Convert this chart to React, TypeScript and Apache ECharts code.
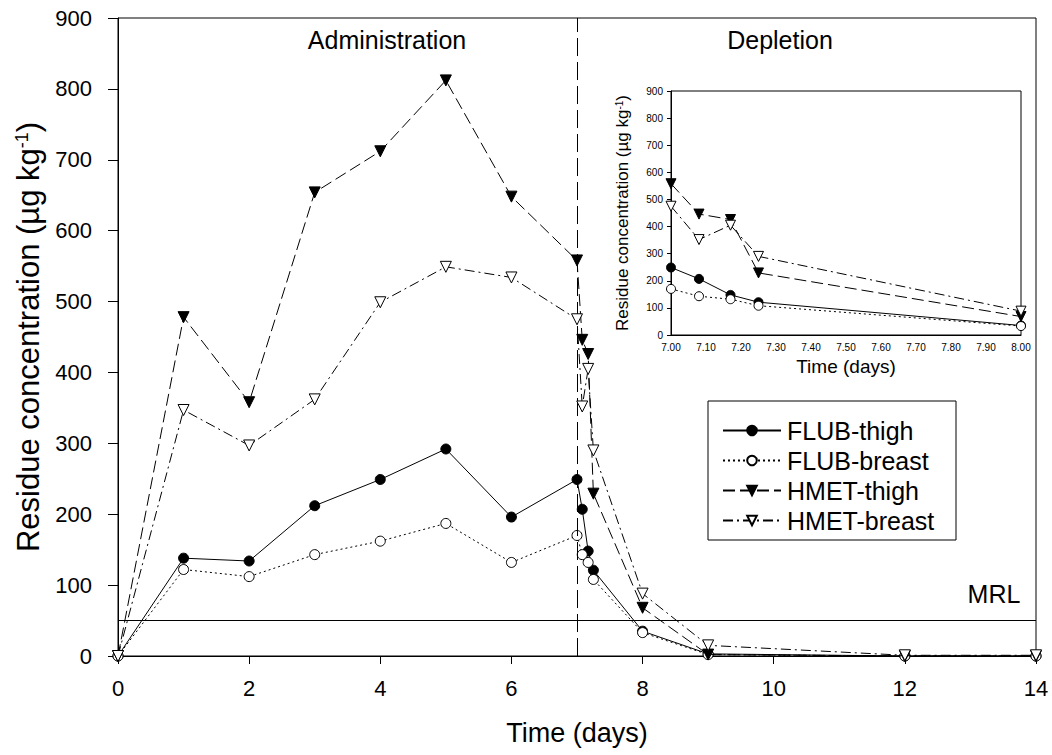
import React, { useEffect, useRef } from "react";
import * as echarts from "echarts";

// Sampling times (days)
const days = [0, 1, 2, 3, 4, 5, 6, 7, 7.08, 7.17, 7.25, 8, 9, 12, 14];
// Residue concentrations (µg kg-1)
const flubThigh = [0, 138, 134, 212, 249, 292, 196, 249, 207, 148, 121, 35, 3, 0, 0];
const flubBreast = [0, 122, 112, 143, 162, 187, 132, 170, 143, 132, 108, 33, 2, 0, 0];
const hmetThigh = [0, 478, 358, 654, 712, 812, 648, 558, 446, 426, 229, 68, 2, 0, 0];
const hmetBreast = [0, 347, 297, 362, 499, 549, 534, 475, 352, 405, 290, 88, 15, 1, 1];

const seriesNames = ["FLUB-thigh", "FLUB-breast", "HMET-thigh", "HMET-breast"];
const mainXTicks = [0, 14, 2];
const mainYTicks = [0, 900, 100];
const insetXTicks = [7, 8, 0.1];
const mrl = 50;
const endOfAdministration = 7;

const FONT = "'Liberation Sans', Arial, sans-serif";

const pairs = (ys: number[]) => days.map((d, i) => [d, ys[i]]);
const insetPairs = (ys: number[]) =>
  days.map((d, i) => [d, ys[i]]).filter((p) => p[0] >= 7 && p[0] <= 8);

const styles = [
  { symbol: "circle", rotate: 0, fill: "#000", dash: "solid" as any, size: 10, insetSize: 9 },
  { symbol: "circle", rotate: 0, fill: "#fff", dash: [2, 3], size: 10, insetSize: 9 },
  { symbol: "triangle", rotate: 180, fill: "#000", dash: [12, 5], size: 11, insetSize: 10 },
  { symbol: "triangle", rotate: 180, fill: "#fff", dash: [10, 4, 2, 4], size: 11, insetSize: 10 },
];
const allData = [flubThigh, flubBreast, hmetThigh, hmetBreast];

export default function App() {
  const ref = useRef<HTMLDivElement>(null);
  useEffect(() => {
    document.body.style.margin = "0";
    const chart = echarts.init(ref.current!, null, { renderer: "svg" });
    const series: any[] = [];
    allData.forEach((ys, k) => {
      const st = styles[k];
      const base = {
        type: "line",
        name: seriesNames[k],
        symbol: st.symbol,
        symbolRotate: st.rotate,
        showAllSymbol: true,
        itemStyle: { color: st.fill, borderColor: "#000", borderWidth: 1 },
        lineStyle: { color: "#000", width: 1, type: st.dash },
        z: 3 + k,
      };
      const s: any = { ...base, xAxisIndex: 0, yAxisIndex: 0, symbolSize: st.size, data: pairs(ys) };
      if (k === 0) {
        s.markLine = {
          silent: true,
          symbol: ["none", "none"],
          label: { show: false },
          data: [
            { xAxis: endOfAdministration, lineStyle: { color: "#000", width: 1, type: [18, 6] } },
            { yAxis: mrl, lineStyle: { color: "#000", width: 1, type: "solid" } },
          ],
        };
      }
      series.push(s);
      series.push({
        ...base,
        xAxisIndex: 1,
        yAxisIndex: 1,
        symbolSize: st.insetSize,
        data: insetPairs(ys),
      });
    });

    chart.setOption({
      animation: false,
      backgroundColor: "#fff",
      textStyle: { fontFamily: FONT, color: "#000" },
      grid: [
        { left: 118, right: 16, top: 18, bottom: 99, show: true, borderColor: "#000", borderWidth: 1, backgroundColor: "transparent" },
        { left: 671, right: 31, top: 91, height: 244, show: true, borderColor: "#000", borderWidth: 1, backgroundColor: "#fff" },
      ],
      xAxis: [
        {
          type: "value",
          gridIndex: 0,
          min: mainXTicks[0],
          max: mainXTicks[1],
          interval: mainXTicks[2],
          name: "Time (days)",
          nameLocation: "middle",
          nameGap: 63,
          nameTextStyle: { fontSize: 27, fontFamily: FONT, color: "#000" },
          axisLine: { lineStyle: { color: "#000", width: 1 } },
          axisTick: { inside: false, length: 8, lineStyle: { color: "#000" } },
          axisLabel: { fontSize: 22, margin: 21, color: "#000", fontFamily: FONT },
          splitLine: { show: false },
        },
        {
          type: "value",
          gridIndex: 1,
          min: insetXTicks[0],
          max: insetXTicks[1],
          interval: insetXTicks[2],
          name: "Time (days)",
          nameLocation: "middle",
          nameGap: 22,
          nameTextStyle: { fontSize: 19, fontFamily: FONT, color: "#000" },
          axisLine: { lineStyle: { color: "#000", width: 1 } },
          axisTick: { show: false },
          axisLabel: {
            fontSize: 10,
            margin: 7,
            color: "#000",
            fontFamily: FONT,
            formatter: (v: number) => v.toFixed(2),
          },
          splitLine: { show: false },
        },
      ],
      yAxis: [
        {
          type: "value",
          gridIndex: 0,
          min: mainYTicks[0],
          max: mainYTicks[1],
          interval: mainYTicks[2],
          name: "{a|Residue concentration (µg kg}{s|-1}{a|)}",
          nameLocation: "middle",
          nameGap: 72,
          nameTextStyle: {
            fontFamily: FONT,
            color: "#000",
            rich: {
              a: { fontSize: 31, fontFamily: FONT, color: "#000" },
              s: { fontSize: 18, fontFamily: FONT, color: "#000", verticalAlign: "top", padding: [0, 0, 12, 0] },
            },
          },
          axisLine: { lineStyle: { color: "#000", width: 1 } },
          axisTick: { inside: false, length: 10, lineStyle: { color: "#000" } },
          axisLabel: { fontSize: 22, margin: 26, color: "#000", fontFamily: FONT },
          splitLine: { show: false },
        },
        {
          type: "value",
          gridIndex: 1,
          min: mainYTicks[0],
          max: mainYTicks[1],
          interval: mainYTicks[2],
          name: "{a|Residue concentration (µg kg}{s|-1}{a|)}",
          nameLocation: "middle",
          nameGap: 40,
          nameTextStyle: {
            fontFamily: FONT,
            color: "#000",
            rich: {
              a: { fontSize: 17, fontFamily: FONT, color: "#000" },
              s: { fontSize: 10, fontFamily: FONT, color: "#000", verticalAlign: "top", padding: [0, 0, 6, 0] },
            },
          },
          axisLine: { lineStyle: { color: "#000", width: 1 } },
          axisTick: { inside: false, length: 4, lineStyle: { color: "#000" } },
          axisLabel: { fontSize: 10, margin: 8, color: "#000", fontFamily: FONT },
          splitLine: { show: false },
        },
      ],
      legend: {
        data: seriesNames,
        orient: "vertical",
        left: 717,
        top: 413,
        itemWidth: 58,
        itemHeight: 12,
        itemGap: 5,
        textStyle: { fontSize: 25, lineHeight: 25, fontFamily: FONT, color: "#000", padding: [0, 0, 0, 1] },
        selectedMode: false,
      },
      graphic: [
        {
          type: "rect",
          shape: { x: 708, y: 401, width: 248, height: 139 },
          style: { fill: "none", stroke: "#000", lineWidth: 1 },
          z: 10,
          silent: true,
        },
        {
          type: "text",
          x: 387,
          y: 40,
          style: { text: "Administration", font: `25px ${FONT}`, fill: "#000", align: "center", verticalAlign: "middle" },
        },
        {
          type: "text",
          x: 780,
          y: 40,
          style: { text: "Depletion", font: `25px ${FONT}`, fill: "#000", align: "center", verticalAlign: "middle" },
        },
        {
          type: "text",
          x: 994,
          y: 594,
          style: { text: "MRL", font: `25px ${FONT}`, fill: "#000", align: "center", verticalAlign: "middle" },
        },
      ],
      series,
    });
    return () => chart.dispose();
  }, []);
  return <div ref={ref} style={{ width: 1052, height: 755 }} />;
}
